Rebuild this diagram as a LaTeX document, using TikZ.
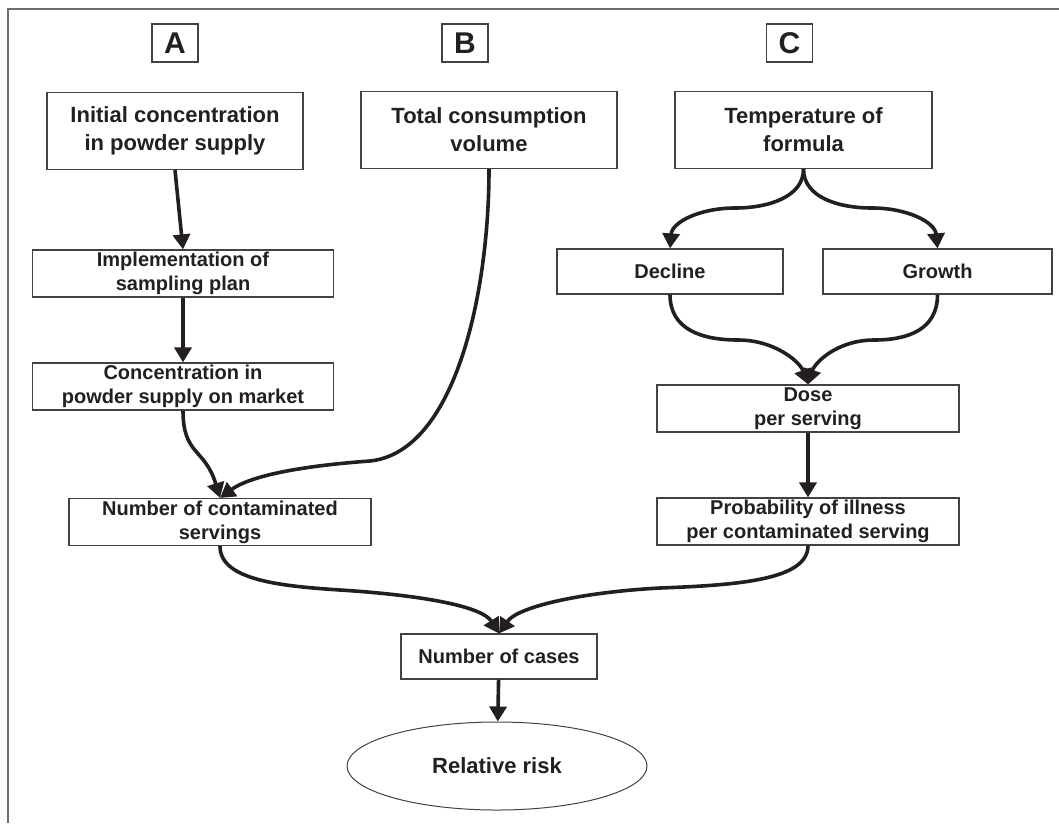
\documentclass[tikz,border=0pt]{standalone}
\usepackage{fontspec}
\setmainfont{Liberation Sans}
\usetikzlibrary{arrows.meta, shapes.geometric}

\definecolor{inkgray}{HTML}{231F20}
\definecolor{framegray}{HTML}{6E6E6E}

\begin{document}
\begin{tikzpicture}[
  x=1pt, y=-1pt,
  font=\bfseries\fontsize{20}{24}\selectfont,
  text=inkgray,
  box/.style={draw=inkgray!85, line width=1.2pt, align=center, inner sep=0pt, minimum height=47pt},
  bigbox/.style={box, font=\bfseries\fontsize{22}{28}\selectfont, minimum width=256pt, minimum height=77pt},
  tag/.style={draw=inkgray!85, line width=1.2pt, inner sep=0pt, minimum width=46pt, minimum height=38pt, font=\bfseries\fontsize{30}{30}\selectfont},
  arrow/.style={-{Triangle[length=15pt, width=17pt]}, line width=3.6pt, draw=inkgray}
]
\useasboundingbox (0,0) rectangle (1059,823);

% frame (cut at right and bottom)
\draw[framegray, line width=2pt] (8,823) -- (8,9) -- (1059,9);

% column tags
\node[tag] (tagA) at (175,43) {A};
\node[tag] (tagB) at (465,43) {B};
\node[tag] (tagC) at (789.5,43) {C};

% Column A
\node[bigbox] (initial) at (175,131) {Initial concentration\\in powder supply};
\node[box, minimum width=301pt] (sampling) at (183,273.5) {Implementation of\\sampling plan};
\node[box, minimum width=301pt] (market) at (183,386.5) {Concentration in\\powder supply on market};
\node[box, minimum width=302pt] (servings) at (220,522) {Number of contaminated\\servings};

% Column B
\node[bigbox] (volume) at (489,130) {Total consumption\\volume};

% Column C
\node[bigbox, minimum width=257pt] (temp) at (803.5,130) {Temperature of\\formula};
\node[box, minimum width=226pt, minimum height=45pt] (decline) at (670,271.5) {Decline};
\node[box, minimum width=229pt, minimum height=45pt] (growth) at (937.5,271.5) {Growth};
\node[box, minimum width=302pt] (dose) at (808,408.5) {Dose\\per serving};
\node[box, minimum width=302pt] (illness) at (808,521.5) {Probability of illness\\per contaminated serving};

% Outcome
\node[box, minimum width=196pt, minimum height=45pt] (cases) at (499,656.5) {Number of cases};
\node[ellipse, draw=inkgray!85, line width=1pt, inner sep=0pt, minimum width=300pt, minimum height=88pt,
  font=\bfseries\fontsize{22}{26}\selectfont] (risk) at (497,766) {Relative risk};

% A chain
\draw[arrow] (initial.south) -- (sampling.north);
\draw[arrow] (sampling) -- (market);
\draw[arrow] (market.south) .. controls +(0,45) and +(-15,-50) .. (servings.north);

% B into servings
\draw[arrow] (volume.south) .. controls +(0,125) and (455,452) .. (370,461)
  .. controls (300,466) and (250,476) .. (servings.north);

% C chain
\draw[arrow] (temp.south) .. controls +(0,28) and (768,208) .. (735,208)
  .. controls (700,208) and (672,222) .. (decline.north);
\draw[arrow] (temp.south) .. controls +(0,28) and (838,208) .. (872,208)
  .. controls (907,208) and (935,222) .. (growth.north);
\draw[arrow] (decline.south) .. controls +(0,35) and (702,340) .. (738,340)
  .. controls (775,340) and (800,362) .. (dose.north);
\draw[arrow] (growth.south) .. controls +(0,35) and (908,340) .. (874,340)
  .. controls (838,340) and (815,362) .. (dose.north);
\draw[arrow] (dose) -- (illness);

% into cases
\draw[arrow] (servings.south) .. controls +(0,34) and (280,586) .. (340,590)
  .. controls (420,595) and (482,606) .. (cases.north);
\draw[arrow] (illness.south) .. controls +(0,34) and (740,585) .. (660,588)
  .. controls (585,592) and (518,606) .. (cases.north);
\draw[arrow] (cases) -- (risk);

\end{tikzpicture}
\end{document}
